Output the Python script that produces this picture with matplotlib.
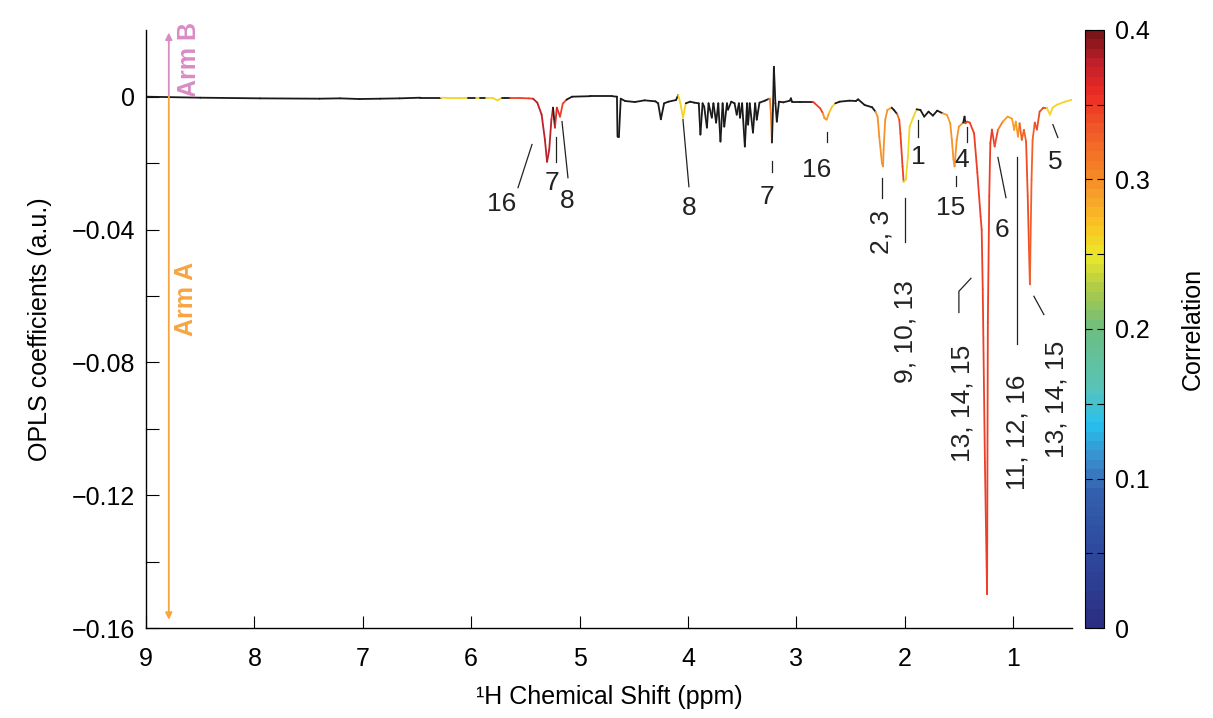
import matplotlib
matplotlib.use("Agg")
import matplotlib.pyplot as plt
import numpy as np
from matplotlib.collections import LineCollection
from matplotlib.colors import LinearSegmentedColormap, Normalize
from matplotlib.cm import ScalarMappable
from matplotlib.ticker import FixedLocator, MultipleLocator

plt.rcParams['font.family'] = ['Liberation Sans', 'DejaVu Sans']

# spectrum: ppm, OPLS coefficient, correlation
ppm = [
    9.00, 8.50, 7.95, 7.40, 7.21, 7.03, 6.84, 6.66, 6.47, 6.28,
    6.20, 6.10, 6.03, 5.96, 5.92, 5.86, 5.80, 5.76, 5.72, 5.69,
    5.64, 5.55, 5.47, 5.43, 5.39, 5.35, 5.32, 5.30, 5.28, 5.26,
    5.245, 5.227, 5.21, 5.18, 5.155, 5.12, 5.07, 4.90, 4.70, 4.655,
    4.65, 4.637, 4.62, 4.58, 4.49, 4.40, 4.30, 4.275, 4.25, 4.22,
    4.18, 4.11, 4.09, 4.07, 4.045, 4.02, 3.98, 3.94, 3.90, 3.885,
    3.865, 3.85, 3.825, 3.81, 3.78, 3.765, 3.74, 3.72, 3.70, 3.68,
    3.665, 3.64, 3.63, 3.60, 3.57, 3.55, 3.53, 3.52, 3.50, 3.475,
    3.455, 3.445, 3.43, 3.40, 3.38, 3.365, 3.34, 3.29, 3.25, 3.244,
    3.235, 3.225, 3.216, 3.207, 3.193, 3.18, 3.16, 3.12, 3.06, 3.05,
    3.04, 2.97, 2.85, 2.83, 2.78, 2.755, 2.74, 2.72, 2.70, 2.67,
    2.64, 2.60, 2.51, 2.45, 2.43, 2.37, 2.30, 2.27, 2.25, 2.235,
    2.21, 2.20, 2.195, 2.18, 2.16, 2.12, 2.10, 2.07, 2.05, 2.04,
    2.02, 2.01, 1.99, 1.97, 1.955, 1.925, 1.89, 1.855, 1.82, 1.78,
    1.74, 1.70, 1.65, 1.61, 1.58, 1.565, 1.55, 1.54, 1.52, 1.50,
    1.46, 1.448, 1.44, 1.425, 1.40, 1.36, 1.33, 1.30, 1.29, 1.28,
    1.26, 1.24, 1.233, 1.22, 1.21, 1.195, 1.17, 1.14, 1.095, 1.05,
    1.01, 0.99, 0.975, 0.955, 0.94, 0.92, 0.90, 0.88, 0.865, 0.845,
    0.83, 0.82, 0.80, 0.78, 0.755, 0.72, 0.69, 0.66, 0.635, 0.595,
    0.52, 0.456,
]
coef = [
    0.0000, -0.0003, -0.0005, -0.0006, -0.0005, -0.0007, -0.0006, -0.0005, -0.0003, -0.0003,
    -0.0004, -0.0004, -0.0004, -0.0004, -0.0004, -0.0004, -0.0004, -0.0011, -0.0004, -0.0004,
    -0.0004, -0.0004, -0.0005, -0.0006, -0.0018, -0.0054, -0.0129, -0.0196, -0.0160, -0.0069,
    -0.0033, -0.0093, -0.0033, -0.0060, -0.0021, -0.0009, 0.0000, 0.00015, 0.00015, 0.0000,
    -0.0120, -0.0120, -0.0006, -0.0013, -0.0016, -0.0011, -0.0014, -0.0020, -0.0068, -0.0020,
    -0.0015, -0.0010, 0.0005, -0.0020, -0.0063, -0.0020, -0.0015, -0.0018, -0.0020, -0.0114,
    -0.0020, -0.0030, -0.0093, -0.0020, -0.0063, -0.0020, -0.0078, -0.0020, -0.0135, -0.0020,
    -0.0090, -0.0020, -0.0039, -0.0015, -0.0020, -0.0054, -0.0020, -0.0063, -0.0020, -0.0150,
    -0.0020, -0.0084, -0.0020, -0.0108, -0.0020, -0.0069, -0.0018, -0.0012, -0.0006, -0.0006,
    -0.0050, -0.0138, -0.0040, 0.0090, -0.0020, -0.0075, -0.0015, -0.0017, -0.0012, -0.0005,
    -0.0015, -0.0015, -0.0015, -0.0020, -0.0035, -0.0050, -0.0065, -0.0069, -0.0050, -0.0030,
    -0.0020, -0.0015, -0.0012, -0.0013, -0.0008, -0.0025, -0.0032, -0.0045, -0.0060, -0.0120,
    -0.0200, -0.0210, -0.0160, -0.0070, -0.0040, -0.0033, -0.0040, -0.0052, -0.0070, -0.0110,
    -0.0210, -0.0256, -0.0250, -0.0180, -0.0090, -0.0065, -0.0038, -0.0040, -0.0060, -0.0045,
    -0.0057, -0.0042, -0.0050, -0.0055, -0.0080, -0.0130, -0.0190, -0.0210, -0.0130, -0.0090,
    -0.0078, -0.0060, -0.0080, -0.0075, -0.0078, -0.0110, -0.0228, -0.0360, -0.0400, -0.0580,
    -0.1100, -0.1498, -0.0680, -0.0300, -0.0140, -0.0099, -0.0150, -0.0100, -0.0075, -0.0060,
    -0.0066, -0.0100, -0.0075, -0.0120, -0.0080, -0.0130, -0.0100, -0.0135, -0.0300, -0.0565,
    -0.0250, -0.0130, -0.0078, -0.0099, -0.0045, -0.0033, -0.0033, -0.0054, -0.0033, -0.0024,
    -0.0015, -0.0009,
]
corr = [
    0.10, 0.10, 0.10, 0.10, 0.10, 0.10, 0.10, 0.10, 0.10, 0.26,
    0.26, 0.26, 0.10, 0.26, 0.10, 0.26, 0.26, 0.26, 0.10, 0.10,
    0.35, 0.35, 0.35, 0.38, 0.38, 0.38, 0.38, 0.38, 0.38, 0.36,
    0.10, 0.36, 0.36, 0.35, 0.35, 0.10, 0.10, 0.10, 0.10, 0.10,
    0.10, 0.10, 0.10, 0.10, 0.10, 0.10, 0.10, 0.10, 0.10, 0.10,
    0.10, 0.10, 0.26, 0.26, 0.26, 0.10, 0.10, 0.10, 0.10, 0.10,
    0.10, 0.10, 0.10, 0.10, 0.10, 0.10, 0.10, 0.10, 0.10, 0.10,
    0.10, 0.10, 0.10, 0.10, 0.10, 0.10, 0.10, 0.10, 0.10, 0.10,
    0.10, 0.10, 0.10, 0.10, 0.10, 0.10, 0.10, 0.10, 0.31, 0.31,
    0.31, 0.10, 0.10, 0.10, 0.10, 0.10, 0.10, 0.10, 0.10, 0.10,
    0.10, 0.10, 0.35, 0.35, 0.35, 0.30, 0.30, 0.29, 0.27, 0.26,
    0.10, 0.10, 0.10, 0.10, 0.10, 0.10, 0.10, 0.30, 0.30, 0.30,
    0.30, 0.30, 0.30, 0.30, 0.29, 0.10, 0.10, 0.32, 0.34, 0.35,
    0.35, 0.26, 0.26, 0.26, 0.26, 0.26, 0.10, 0.10, 0.10, 0.10,
    0.10, 0.10, 0.29, 0.29, 0.30, 0.30, 0.29, 0.30, 0.30, 0.30,
    0.10, 0.10, 0.35, 0.35, 0.35, 0.35, 0.35, 0.35, 0.35, 0.35,
    0.35, 0.35, 0.35, 0.35, 0.35, 0.35, 0.34, 0.31, 0.29, 0.29,
    0.29, 0.29, 0.29, 0.30, 0.33, 0.33, 0.33, 0.34, 0.34, 0.33,
    0.33, 0.33, 0.34, 0.34, 0.34, 0.34, 0.26, 0.26, 0.26, 0.26,
    0.26, 0.26,
]

# colormap as in the colour bar
cmap_pos = [0.0, 0.05, 0.09, 0.11, 0.135, 0.16, 0.2, 0.225, 0.25, 0.27,
            0.29, 0.31, 0.335, 0.36, 0.38, 0.4]
cmap_col = ['#2B2F83', '#2E4A9E', '#3460AE', '#3A8ACB', '#27C0EF', '#58C3B9',
            '#6DBE80', '#A7C94A', '#EBE82A', '#FBC423', '#F7A02A', '#F47F25',
            '#F05A28', '#EC2B24', '#C2202A', '#7C1517']

# annotation labels: text, ppm, coefficient, rotation
labels = [
    ("16", 5.716, -0.0322, 0), ("7", 5.255, -0.0259, 0), ("8", 5.116, -0.0313, 0),
    ("8", 3.99, -0.0334, 0), ("7", 3.27, -0.0301, 0), ("16", 2.81, -0.0220, 0),
    ("2, 3", 2.21, -0.0406, 90), ("1", 1.878, -0.0183, 0), ("4", 1.47, -0.0190, 0),
    ("15", 1.58, -0.0334, 0), ("6", 1.10, -0.0400, 0), ("5", 0.615, -0.0198, 0),
    ("9, 10, 13", 1.99, -0.0707, 90), ("13, 14, 15", 1.47, -0.0923, 90),
    ("11, 12, 16", 0.956, -0.1010, 90), ("13, 14, 15", 0.596, -0.0911, 90),
]
leaders = [
    ([5.568, 5.439], [-0.0274, -0.0144]),
    ([5.218, 5.218], [-0.0120, -0.0198]),
    ([5.162, 5.107], [-0.0075, -0.0244]),
    ([4.046, 3.991], [-0.0069, -0.0271]),
    ([3.225, 3.225], [-0.0195, -0.0226]),
    ([2.717, 2.717], [-0.0105, -0.0135]),
    ([2.21, 2.21], [-0.0244, -0.0304]),
    ([2.00, 2.00], [-0.0304, -0.0439]),
    ([1.878, 1.878], [-0.0069, -0.0120]),
    ([1.426, 1.426], [-0.0090, -0.0135]),
    ([1.528, 1.528], [-0.0240, -0.0270]),
    ([1.14, 1.066], [-0.0183, -0.0304]),
    ([0.633, 0.587], [-0.0084, -0.0123]),
    ([0.965, 0.965], [-0.0183, -0.0746]),
    ([1.50, 1.50, 1.389], [-0.0650, -0.0586, -0.0547]),
    ([0.808, 0.716], [-0.0601, -0.0656]),
]

cmap = LinearSegmentedColormap.from_list(
    'corr', [(p / 0.4, c) for p, c in zip(cmap_pos, cmap_col)], N=64)
norm = Normalize(0, 0.4)

fig = plt.figure(figsize=(12.13, 7.18), dpi=100)
ax = fig.add_axes([0.1204, 0.1253, 0.7634, 0.8330])
cax = fig.add_axes([0.8945, 0.1253, 0.0157, 0.8330])

x = np.array(ppm)
y = np.array(coef)
c = np.array(corr)
pts = np.column_stack([x, y])
segs = np.stack([pts[:-1], pts[1:]], axis=1)
seg_c = c[:-1]
colors = [cmap(norm(v)) if v >= 0.2 else (0.1, 0.1, 0.1, 1.0) for v in seg_c]
lc = LineCollection(segs, colors=colors, linewidths=1.3, capstyle='round',
                    joinstyle='round')
ax.add_collection(lc)

ax.set_xlim(9, 0.456)
ax.set_ylim(-0.16, 0.0201)
for s in ['top', 'right']:
    ax.spines[s].set_visible(False)
ax.spines['left'].set_linewidth(1.0)
ax.spines['bottom'].set_linewidth(1.0)

ax.xaxis.set_major_locator(FixedLocator([9, 8, 7, 6, 5, 4, 3, 2, 1]))
yt = [-0.16, -0.12, -0.08, -0.04, 0]
ax.yaxis.set_major_locator(FixedLocator(yt))
ax.set_yticklabels(['0' if v == 0 else f'\u2212{abs(v):.2f}' for v in yt])
ax.yaxis.set_minor_locator(FixedLocator([-0.14, -0.10, -0.06, -0.02]))
ax.tick_params(which='both', direction='in', length=9, width=0.8,
               labelsize=18, pad=8)
ax.tick_params(axis='x', pad=14)
ax.set_xlabel('\u00b9H Chemical Shift (ppm)', fontsize=18, labelpad=10)
ax.set_ylabel('OPLS coefficients (a.u.)', fontsize=18, labelpad=14)

# arm arrows
ax.annotate('', xy=(8.79, 0.0193), xytext=(8.79, 0.0),
            arrowprops=dict(arrowstyle='-|>', color='#D98CC4', lw=1.3,
                            mutation_scale=10, shrinkA=0, shrinkB=0))
ax.annotate('', xy=(8.79, -0.1575), xytext=(8.79, 0.0),
            arrowprops=dict(arrowstyle='-|>', color='#F7A541', lw=1.3,
                            mutation_scale=10, shrinkA=0, shrinkB=0))
ax.text(8.60, 0.0112, 'Arm B', color='#D98CC4', rotation=90, fontsize=18,
        fontweight='bold', ha='center', va='center')
ax.text(8.63, -0.0610, 'Arm A', color='#F7A541', rotation=90, fontsize=18,
        fontweight='bold', ha='center', va='center')

for txt, lx, ly, rot in labels:
    ax.text(lx, ly, txt, rotation=rot, fontsize=19, ha='center', va='center',
            color='#222222')
for lx, ly in leaders:
    ax.plot(lx, ly, color='#222222', lw=0.9)

sm = ScalarMappable(norm=norm, cmap=cmap)
cb = fig.colorbar(sm, cax=cax)
cb.set_ticks([0, 0.1, 0.2, 0.3, 0.4])
cb.set_ticklabels(['0', '0.1', '0.2', '0.3', '0.4'])
cb.ax.yaxis.set_minor_locator(MultipleLocator(0.05))
cb.ax.tick_params(which='both', direction='in', left=True, right=True,
                  length=5, width=0.8, labelsize=18, pad=8)
cb.outline.set_linewidth(0.8)
cb.set_label('Correlation', fontsize=18, labelpad=22)

fig.savefig('out.png', dpi=100)
